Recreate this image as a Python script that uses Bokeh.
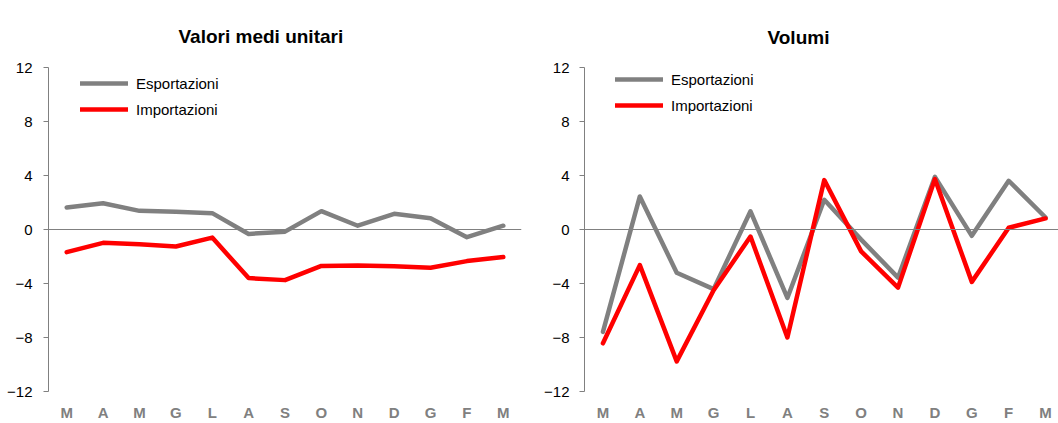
from bokeh.plotting import figure
from bokeh.layouts import row
from bokeh.models import Range1d, Span, Legend, LegendItem, FixedTicker
from bokeh.embed import file_html
from bokeh.resources import INLINE

months = ["M", "A", "M", "G", "L", "A", "S", "O", "N", "D", "G", "F", "M"]
yticks = [-12, -8, -4, 0, 4, 8, 12]

left_title = "Valori medi unitari"
left_exp = [1.63, 1.95, 1.38, 1.31, 1.21, -0.33, -0.16, 1.36, 0.28, 1.16, 0.84, -0.57, 0.28]
left_imp = [-1.68, -0.99, -1.09, -1.26, -0.60, -3.60, -3.75, -2.70, -2.66, -2.73, -2.83, -2.34, -2.04]

right_title = "Volumi"
right_exp = [-7.58, 2.45, -3.20, -4.42, 1.35, -5.07, 2.20, -0.75, -3.56, 3.90, -0.47, 3.61, 0.89]
right_imp = [-8.43, -2.64, -9.77, -4.50, -0.52, -8.00, 3.66, -1.62, -4.30, 3.74, -3.88, 0.13, 0.82]

series_names = ["Esportazioni", "Importazioni"]
GREY = "#808080"
RED = "#FF0000"
FONT = "Liberation Sans"


def make_panel(title, exp, imp, width, x_end, b_left, b_right, b_top, y_standoff,
               legend_loc, title_offset, title_standoff):
    xs = list(range(len(months)))
    p = figure(width=width, height=423, output_backend="svg", toolbar_location=None,
               x_range=Range1d(-0.5, x_end), y_range=Range1d(-12, 12),
               min_border_left=b_left, min_border_right=b_right,
               min_border_top=b_top, min_border_bottom=29)
    p.outline_line_color = None
    p.xgrid.visible = False
    p.ygrid.visible = False
    p.background_fill_color = "white"
    p.border_fill_color = "white"

    p.title.text = title
    p.title.align = "left"
    p.title.vertical_align = "bottom"
    p.title.offset = title_offset
    p.title.standoff = title_standoff
    p.title.text_font = FONT
    p.title.text_font_style = "bold"
    p.title.text_font_size = "19px"
    p.title.text_color = "black"

    # y axis
    p.yaxis.ticker = FixedTicker(ticks=yticks)
    p.yaxis.axis_line_color = GREY
    p.yaxis.major_tick_line_color = GREY
    p.yaxis.major_tick_out = 5
    p.yaxis.major_tick_in = 0
    p.yaxis.minor_tick_line_color = None
    p.yaxis.major_label_standoff = y_standoff
    p.yaxis.major_label_text_font = FONT
    p.yaxis.major_label_text_font_size = "15px"
    p.yaxis.major_label_text_color = "black"

    # x axis
    p.xaxis.ticker = FixedTicker(ticks=xs)
    p.xaxis.major_label_overrides = {i: m for i, m in enumerate(months)}
    p.xaxis.axis_line_color = None
    p.xaxis.major_tick_line_color = None
    p.xaxis.minor_tick_line_color = None
    p.xaxis.major_tick_out = 0
    p.xaxis.major_tick_in = 0
    p.xaxis.major_label_standoff = 12
    p.xaxis.major_label_text_font = FONT
    p.xaxis.major_label_text_font_style = "bold"
    p.xaxis.major_label_text_font_size = "15px"
    p.xaxis.major_label_text_color = GREY

    p.add_layout(Span(location=0, dimension="width", line_color=GREY, line_width=1))

    r1 = p.line(xs, exp, line_color=GREY, line_width=4.5, line_join="round", line_cap="round")
    r2 = p.line(xs, imp, line_color=RED, line_width=4.5, line_join="round", line_cap="round")

    legend = Legend(items=[LegendItem(label=series_names[0], renderers=[r1]),
                           LegendItem(label=series_names[1], renderers=[r2])],
                    location=legend_loc, border_line_color=None,
                    background_fill_alpha=0, padding=0, margin=0, spacing=6,
                    glyph_width=48, glyph_height=20, label_height=20,
                    label_standoff=8, label_text_font=FONT,
                    label_text_font_size="15px", label_text_color="black")
    p.add_layout(legend)
    return p


left = make_panel(left_title, left_exp, left_imp, width=530, x_end=12.5,
                  b_left=48, b_right=9, b_top=67, y_standoff=11,
                  legend_loc=(32, 272), title_offset=130, title_standoff=42)
right = make_panel(right_title, right_exp, right_imp, width=528, x_end=12.35,
                   b_left=54, b_right=0, b_top=65, y_standoff=10,
                   legend_loc=(31, 276), title_offset=183, title_standoff=40)

layout = row(left, right)
open("out.html", "w").write(file_html(layout, INLINE))
